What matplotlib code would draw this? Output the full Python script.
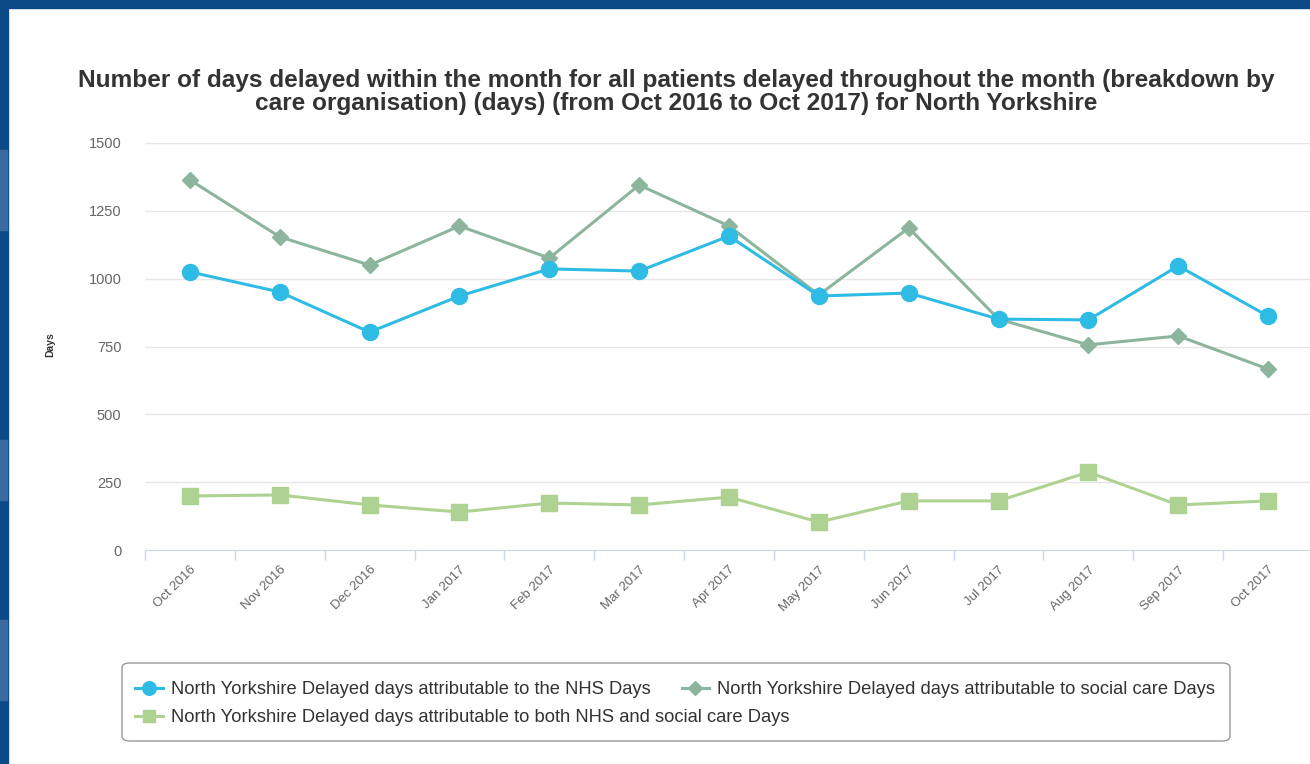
import matplotlib.pyplot as plt
from matplotlib.patches import Rectangle, FancyBboxPatch
import numpy as np

plt.rcParams['font.family'] = ['Liberation Sans', 'DejaVu Sans']

months = ['Oct 2016', 'Nov 2016', 'Dec 2016', 'Jan 2017', 'Feb 2017', 'Mar 2017', 'Apr 2017',
          'May 2017', 'Jun 2017', 'Jul 2017', 'Aug 2017', 'Sep 2017', 'Oct 2017']
nhs_days = [1025, 951, 803, 936, 1036, 1028, 1157, 936, 947, 851, 848, 1047, 862]
social_days = [1364, 1154, 1050, 1194, 1076, 1345, 1194, 940, 1187, 851, 756, 789, 667]
both_days = [199, 203, 166, 140, 173, 166, 195, 103, 181, 181, 287, 166, 181]
y_ticks = [0, 250, 500, 750, 1000, 1250, 1500]

series_names = [
    'North Yorkshire Delayed days attributable to the NHS Days',
    'North Yorkshire Delayed days attributable to social care Days',
    'North Yorkshire Delayed days attributable to both NHS and social care Days',
]

W, H = 1310, 764
fig = plt.figure(figsize=(W / 100, H / 100), dpi=100)
fig.patch.set_facecolor('white')

# dark blue page frame (top + left), with a few lighter streaks on the left
border = '#0b4a86'
fig.patches.append(Rectangle((0, 1 - 8 / H), 1, 8 / H, transform=fig.transFigure,
                             color=border, zorder=0))
fig.patches.append(Rectangle((0, 0), 8 / W, 1, transform=fig.transFigure,
                             color=border, zorder=0))
for y0, h in [(150, 80), (440, 60), (620, 80)]:
    fig.patches.append(Rectangle((0, 1 - (y0 + h) / H), 7 / W, h / H,
                                 transform=fig.transFigure, color='#3b6aa0', zorder=0))

ax = fig.add_axes([145 / W, 214 / H, 1168 / W, 407 / H])
x = np.arange(len(months))

l1, = ax.plot(x, nhs_days, color='#2fbce4', lw=2.2, marker='o', ms=11.5, zorder=4)
l2, = ax.plot(x, social_days, color='#8db59e', lw=2.2, marker='D', ms=8.5, zorder=3)
l3, = ax.plot(x, both_days, color='#aed291', lw=2.2, marker='s', ms=11, zorder=2)

ax.set_xlim(-0.5, len(months) - 0.5)
ax.set_ylim(0, 1500)
ax.set_yticks(y_ticks)
ax.set_yticklabels([str(v) for v in y_ticks])
ax.grid(axis='y', color='#e6e6e6', lw=1)
ax.set_axisbelow(True)
for s in ['top', 'right', 'left']:
    ax.spines[s].set_visible(False)
ax.spines['bottom'].set_color('#ccd6eb')
ax.tick_params(axis='y', length=0, pad=17, labelsize=10.5, labelcolor='#666666')

ax.set_xticks(x)
ax.set_xticklabels(months, rotation=45, ha='right', rotation_mode='anchor',
                   fontsize=9.5, color='#666666')
ax.tick_params(axis='x', which='major', length=0, pad=10)
ax.set_xticks(np.arange(-0.5, len(months), 1), minor=True)
ax.tick_params(axis='x', which='minor', length=7, color='#ccd6eb', width=1)

fig.text(50 / W, 1 - 345 / H, 'Days', rotation=90, ha='center', va='center',
         fontsize=7.5, fontweight='bold', color='#333333')

fig.text(676 / W, 1 - 92 / H,
         'Number of days delayed within the month for all patients delayed throughout the month (breakdown by\n'
         'care organisation) (days) (from Oct 2016 to Oct 2017) for North Yorkshire',
         ha='center', va='center', fontsize=17.6, fontweight='bold', color='#333333',
         linespacing=0.95)

# legend: frame drawn by hand, two rows laid out like the original (not column aligned)
fig.patches.append(FancyBboxPatch((122 / W, 1 - 741 / H), (1230 - 122) / W, 78 / H,
                                  boxstyle='round,pad=0,rounding_size=0.006',
                                  transform=fig.transFigure, facecolor='white',
                                  edgecolor='#999999', lw=1, zorder=1))
leg_kw = dict(frameon=False, fontsize=13.2, handlelength=1.5, handletextpad=0.45,
              borderpad=0, borderaxespad=0, markerscale=0.85, labelcolor='#333333')
fig.legend([l1, l2], series_names[:2], ncol=2, loc='center left',
           bbox_to_anchor=(135 / W, 1 - 690 / H), columnspacing=1.7, **leg_kw)
fig.legend([l3], series_names[2:], loc='center left',
           bbox_to_anchor=(135 / W, 1 - 718 / H), **leg_kw)

fig.savefig('out.png', dpi=100)
